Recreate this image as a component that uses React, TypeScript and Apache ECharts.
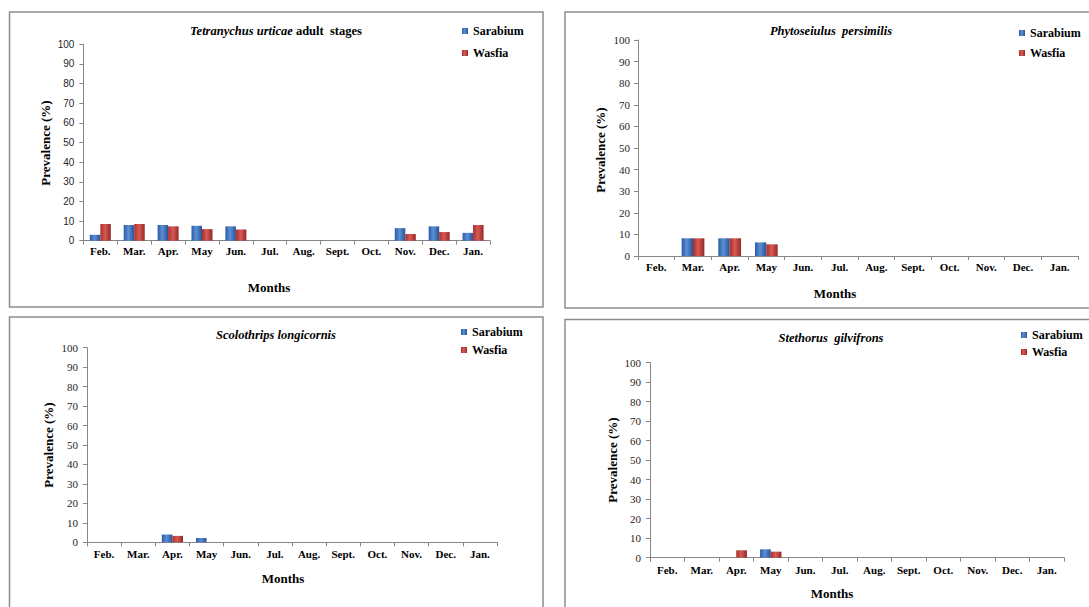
import React, { useEffect, useRef } from "react";
import * as echarts from "echarts";

const months = ["Feb.", "Mar.", "Apr.", "May", "Jun.", "Jul.", "Aug.", "Sept.", "Oct.", "Nov.", "Dec.", "Jan."];
const yTicks = [0, 10, 20, 30, 40, 50, 60, 70, 80, 90, 100];

// Tetranychus urticae adult stages
const tetraSarabium = [3.0, 8.0, 8.0, 7.6, 7.3, 0, 0, 0, 0, 6.4, 7.3, 4.0];
const tetraWasfia = [8.5, 8.5, 7.3, 5.9, 5.7, 0, 0, 0, 0, 3.4, 4.4, 8.0];
// Phytoseiulus persimilis
const phytoSarabium = [0, 8.2, 8.2, 6.3, 0, 0, 0, 0, 0, 0, 0, 0];
const phytoWasfia = [0, 8.2, 8.2, 5.4, 0, 0, 0, 0, 0, 0, 0, 0];
// Scolothrips longicornis
const scoloSarabium = [0, 0, 4.0, 2.2, 0, 0, 0, 0, 0, 0, 0, 0];
const scoloWasfia = [0, 0, 3.3, 0, 0, 0, 0, 0, 0, 0, 0, 0];
// Stethorus gilvifrons
const stethSarabium = [0, 0, 0, 4.3, 0, 0, 0, 0, 0, 0, 0, 0];
const stethWasfia = [0, 0, 3.8, 3.1, 0, 0, 0, 0, 0, 0, 0, 0];

const SERIF = "Times New Roman";
const SANS = "Liberation Sans";

const blueGrad = new echarts.graphic.LinearGradient(0, 0, 1, 0, [
  { offset: 0, color: "#2c5ca6" },
  { offset: 0.45, color: "#5a8fd6" },
  { offset: 1, color: "#2a5293" },
]);
const redGrad = new echarts.graphic.LinearGradient(0, 0, 1, 0, [
  { offset: 0, color: "#a62f2c" },
  { offset: 0.45, color: "#d65a56" },
  { offset: 1, color: "#962826" },
]);

type Panel = {
  italic: string;
  plain: string;
  grid: { left: number; top: number; width: number; height: number };
  sar: number[];
  was: number[];
  titleX: number;
  titleY: number;
  legendX: number;
  legendY: number;
  legendGap: number;
  monthsX: number;
  monthsY: number;
  ylabX: number;
  ylabY: number;
  xMargin: number;
  yMargin: number;
  tickFont: string;
  tickSize: number;
};

const panels: Panel[] = [
  {
    italic: "Tetranychus urticae",
    plain: " adult  stages",
    grid: { left: 83.4, top: 44.3, width: 406.6, height: 196.4 },
    sar: tetraSarabium,
    was: tetraWasfia,
    titleX: 276,
    titleY: 31,
    legendX: 462,
    legendY: 25,
    legendGap: 8,
    monthsX: 269,
    monthsY: 287,
    ylabX: 45,
    ylabY: 143,
    xMargin: 5,
    yMargin: 9,
    tickFont: SANS,
    tickSize: 10,
  },
  {
    italic: "Phytoseiulus  persimilis",
    plain: "",
    grid: { left: 638, top: 40, width: 440, height: 216 },
    sar: phytoSarabium,
    was: phytoWasfia,
    titleX: 831,
    titleY: 31,
    legendX: 1019,
    legendY: 27,
    legendGap: 6,
    monthsX: 835,
    monthsY: 293,
    ylabX: 600.5,
    ylabY: 150,
    xMargin: 5,
    yMargin: 8,
    tickFont: SERIF,
    tickSize: 11,
  },
  {
    italic: "Scolothrips longicornis",
    plain: "",
    grid: { left: 87, top: 347.7, width: 410, height: 194.6 },
    sar: scoloSarabium,
    was: scoloWasfia,
    titleX: 276,
    titleY: 335,
    legendX: 461,
    legendY: 326,
    legendGap: 4,
    monthsX: 283,
    monthsY: 578,
    ylabX: 48.7,
    ylabY: 445,
    xMargin: 6.5,
    yMargin: 9,
    tickFont: SERIF,
    tickSize: 11,
  },
  {
    italic: "Stethorus  gilvifrons",
    plain: "",
    grid: { left: 650, top: 362.7, width: 414, height: 195 },
    sar: stethSarabium,
    was: stethWasfia,
    titleX: 831,
    titleY: 338,
    legendX: 1021,
    legendY: 329,
    legendGap: 3,
    monthsX: 832,
    monthsY: 593,
    ylabX: 612,
    ylabY: 460,
    xMargin: 7,
    yMargin: 9,
    tickFont: SERIF,
    tickSize: 11,
  },
];

const borders = [
  { x: 9.5, y: 12, w: 533.5, h: 295 },
  { x: 565, y: 12, w: 600, h: 296 },
  { x: 9.5, y: 317, w: 533.5, h: 400 },
  { x: 565, y: 319.5, w: 600, h: 400 },
];

export default function App() {
  const ref = useRef<HTMLDivElement>(null);

  useEffect(() => {
    if (!ref.current) return;
    const chart = echarts.init(ref.current, undefined, { renderer: "svg" });

    const axisColor = "#868686";
    const textColor = "#000000";
    const grids: any[] = [];
    const xAxes: any[] = [];
    const yAxes: any[] = [];
    const series: any[] = [];
    const legends: any[] = [];
    const graphics: any[] = [];

    borders.forEach((b) => {
      graphics.push({
        type: "rect",
        shape: { x: b.x, y: b.y, width: b.w, height: b.h },
        style: { fill: "none", stroke: "#8c8c8c", lineWidth: 1.5 },
        silent: true,
        z: 0,
      });
    });

    panels.forEach((p, i) => {
      grids.push({ ...p.grid, containLabel: false });
      xAxes.push({
        type: "category",
        gridIndex: i,
        data: months,
        axisLine: { lineStyle: { color: axisColor, width: 1 } },
        axisTick: { show: true, length: 4, lineStyle: { color: axisColor } },
        axisLabel: {
          margin: p.xMargin,
          fontFamily: SERIF,
          fontWeight: "bold",
          fontSize: 11,
          color: textColor,
        },
        splitLine: { show: false },
      });
      yAxes.push({
        type: "value",
        gridIndex: i,
        min: 0,
        max: 100,
        interval: 10,
        axisLine: { show: true, lineStyle: { color: axisColor, width: 1 } },
        axisTick: { show: true, length: 4, lineStyle: { color: axisColor } },
        axisLabel: {
          margin: p.yMargin,
          fontFamily: p.tickFont,
          fontSize: p.tickSize,
          color: "#262626",
          formatter: (v: number) => (yTicks.includes(v) ? String(v) : ""),
        },
        splitLine: { show: false },
      });
      series.push({
        type: "bar",
        name: "Sarabium",
        xAxisIndex: i,
        yAxisIndex: i,
        data: p.sar,
        barGap: "0%",
        barCategoryGap: "38%",
        itemStyle: { color: blueGrad },
      });
      series.push({
        type: "bar",
        name: "Wasfia",
        xAxisIndex: i,
        yAxisIndex: i,
        data: p.was,
        barGap: "0%",
        barCategoryGap: "38%",
        itemStyle: { color: redGrad },
      });
      legends.push({
        orient: "vertical",
        left: p.legendX,
        top: p.legendY,
        padding: 0,
        itemWidth: 6,
        itemHeight: 6,
        itemGap: p.legendGap + 2,
        icon: "rect",
        selectedMode: false,
        data: ["Sarabium", "Wasfia"],
        textStyle: {
          fontFamily: SERIF,
          fontWeight: "bold",
          fontSize: 12,
          color: textColor,
        },
      });
      const titleText = p.plain ? `{i|${p.italic}}{b|${p.plain}}` : `{i|${p.italic}}`;
      graphics.push({
        type: "text",
        x: p.titleX,
        y: p.titleY,
        silent: true,
        style: {
          text: titleText,
          font: "bold 12.5px 'Liberation Serif'",
          fill: textColor,
          align: "center",
          verticalAlign: "middle",
          rich: {
            i: { font: "italic bold 12.5px 'Liberation Serif'", fill: textColor },
            b: { font: "bold 12.5px 'Liberation Serif'", fill: textColor },
          },
        },
      });
      graphics.push({
        type: "text",
        x: p.monthsX,
        y: p.monthsY,
        silent: true,
        style: {
          text: "Months",
          font: "bold 13px 'Liberation Serif'",
          fill: textColor,
          align: "center",
          verticalAlign: "middle",
        },
      });
      graphics.push({
        type: "text",
        x: p.ylabX,
        y: p.ylabY,
        rotation: Math.PI / 2,
        silent: true,
        style: {
          text: "Prevalence (%)",
          font: "bold 13px 'Liberation Serif'",
          fill: textColor,
          align: "center",
          verticalAlign: "middle",
        },
      });
    });

    chart.setOption({
      animation: false,
      backgroundColor: "#ffffff",
      grid: grids,
      xAxis: xAxes,
      yAxis: yAxes,
      series,
      legend: legends,
      graphic: graphics,
    });

    return () => chart.dispose();
  }, []);

  return (
    <div
      ref={ref}
      style={{ position: "absolute", left: 0, top: 0, width: 1089, height: 607, background: "#fff" }}
    />
  );
}
